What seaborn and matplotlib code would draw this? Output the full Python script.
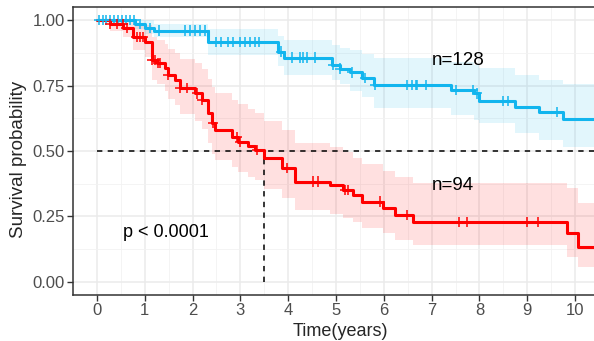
import numpy as np
import pandas as pd
import matplotlib
matplotlib.use("Agg")
import matplotlib.pyplot as plt
import seaborn as sns
from matplotlib.ticker import MultipleLocator

# ---------------- data ----------------
# group with n=128 (blue)
blue_time = [0, 0.80, 1.00, 1.20, 2.32, 3.78, 3.92, 4.92, 5.08, 5.30, 5.55, 5.80, 7.41, 7.89, 7.99, 8.74, 9.25, 9.75]
blue_surv = [1.0, 0.985, 0.970, 0.960, 0.917, 0.880, 0.857, 0.830, 0.815, 0.800, 0.780, 0.752, 0.733, 0.720, 0.691, 0.668, 0.648, 0.622]
blue_upper = [1.0, 1.0, 1.0, 0.985, 0.965, 0.940, 0.925, 0.905, 0.895, 0.885, 0.870, 0.855, 0.840, 0.830, 0.817, 0.790, 0.771, 0.755]
blue_lower = [1.0, 0.965, 0.945, 0.935, 0.865, 0.825, 0.790, 0.770, 0.755, 0.730, 0.705, 0.664, 0.637, 0.620, 0.607, 0.569, 0.542, 0.515]
blue_censor = [0.05, 0.12, 0.2, 0.28, 0.35, 0.45, 0.52, 0.6, 0.7, 0.78, 0.9, 1.1, 1.3,
               1.85, 1.95, 2.05, 2.15, 2.25, 2.5, 2.6, 2.75, 2.85, 3.0, 3.1, 3.2, 3.3, 3.4,
               3.85, 4.08, 4.25, 4.31, 4.39, 4.56, 4.94, 5.08, 5.33, 5.61, 5.82,
               6.49, 6.59, 6.67, 6.70, 6.88, 7.51, 7.87, 7.95, 8.49, 8.60, 9.62]
blue_end = 10.6

# group with n=94 (red)
red_time = [0, 0.27, 0.55, 0.75, 1.00, 1.15, 1.25, 1.42, 1.49, 1.63, 1.74, 2.05, 2.20, 2.32, 2.41,
            2.47, 2.82, 2.95, 3.15, 3.30, 3.50, 3.88, 4.14, 4.87, 5.15, 5.36, 5.54, 5.98, 6.23, 6.61, 9.83, 10.06]
red_surv = [1.0, 0.985, 0.970, 0.936, 0.917, 0.847, 0.836, 0.817, 0.790, 0.771, 0.740, 0.720, 0.695, 0.645, 0.607,
            0.580, 0.554, 0.534, 0.518, 0.505, 0.472, 0.435, 0.383, 0.370, 0.351, 0.332, 0.307, 0.281, 0.256, 0.230, 0.186, 0.135]
red_upper = [1.0, 1.0, 1.0, 0.990, 0.980, 0.935, 0.925, 0.910, 0.890, 0.875, 0.850, 0.835, 0.815, 0.775, 0.745,
             0.720, 0.695, 0.680, 0.660, 0.645, 0.615, 0.580, 0.530, 0.515, 0.495, 0.475, 0.450, 0.425, 0.400, 0.378, 0.360, 0.300]
red_lower = [1.0, 0.960, 0.935, 0.885, 0.860, 0.770, 0.755, 0.730, 0.700, 0.675, 0.640, 0.615, 0.585, 0.530, 0.490,
             0.465, 0.440, 0.420, 0.400, 0.390, 0.355, 0.320, 0.275, 0.260, 0.245, 0.230, 0.205, 0.185, 0.160, 0.141, 0.095, 0.057]
red_censor = [0.27, 0.42, 0.54, 0.62, 0.83, 0.90, 0.96, 1.15, 1.21, 1.28, 1.32, 1.49, 1.74, 1.88,
              2.09, 2.20, 2.43, 2.93, 2.99, 3.35, 3.97, 4.52, 4.62, 5.19, 5.25, 5.92, 6.48,
              7.57, 7.74, 9.00, 9.23]
red_end = 10.6

labels = ["n=128", "n=94"]
p_text = "p < 0.0001"
median_red = 3.5

BLUE = "#12B5EE"
RED = "#FF0000"

# ---------------- build frames ----------------
def frame(t, s, end, name):
    tt = list(t) + [end]
    ss = list(s) + [s[-1]]
    return pd.DataFrame({"time": tt, "surv": ss, "group": name})

df = pd.concat([frame(blue_time, blue_surv, blue_end, "blue"),
                frame(red_time, red_surv, red_end, "red")], ignore_index=True)

def surv_at(times, t, s):
    idx = np.searchsorted(np.asarray(t), np.asarray(times), side="right") - 1
    return np.asarray(s)[idx]

cens = pd.concat([
    pd.DataFrame({"time": blue_censor, "surv": surv_at(blue_censor, blue_time, blue_surv), "group": "blue"}),
    pd.DataFrame({"time": red_censor, "surv": surv_at(red_censor, red_time, red_surv), "group": "red"}),
], ignore_index=True)

# ---------------- plot ----------------
sns.set_theme(style="white")
plt.rcParams["font.family"] = ["Liberation Sans", "DejaVu Sans"]

W, H = 594, 341
fig = plt.figure(figsize=(W / 100, H / 100), dpi=100)
ax = fig.add_axes([73 / W, 46 / H, (599 - 73) / W, (295 - 7) / H])
ax.set_facecolor("white")

# grid
ax.xaxis.set_major_locator(MultipleLocator(1))
ax.xaxis.set_minor_locator(MultipleLocator(0.5))
ax.yaxis.set_major_locator(MultipleLocator(0.25))
ax.yaxis.set_minor_locator(MultipleLocator(0.125))
ax.grid(which="major", color="#EBEBEB", lw=1.1, zorder=0)
ax.grid(which="minor", color="#F2F2F2", lw=0.6, zorder=0)
ax.set_axisbelow(True)

# confidence bands
for t, lo, up, end, col in [(blue_time, blue_lower, blue_upper, blue_end, BLUE),
                            (red_time, red_lower, red_upper, red_end, RED)]:
    tt = list(t) + [end]
    ax.fill_between(tt, list(lo) + [lo[-1]], list(up) + [up[-1]], step="post",
                    color=col, alpha=0.12, lw=0, zorder=1)

# dashed median lines
ax.plot([0, 10.6], [0.5, 0.5], ls=(0, (3.5, 3.5)), color="black", lw=1.1, zorder=2)
ax.plot([median_red, median_red], [0, 0.5], ls=(0, (3.5, 3.5)), color="black", lw=1.1, zorder=2)

# survival curves
sns.lineplot(data=df, x="time", y="surv", hue="group", palette={"blue": BLUE, "red": RED},
             drawstyle="steps-post", estimator=None, sort=False, lw=2.2, legend=False, ax=ax, zorder=3)

# censor marks
sns.scatterplot(data=cens, x="time", y="surv", hue="group", palette={"blue": BLUE, "red": RED},
                marker="+", s=55, linewidth=1.1, legend=False, ax=ax, zorder=4)

# annotations
ax.text(7.0, 0.847, labels[0], fontsize=13.5, va="center", ha="left", color="black")
ax.text(7.0, 0.37, labels[1], fontsize=13.5, va="center", ha="left", color="black")
ax.text(1.44, 0.19, p_text, fontsize=13, va="center", ha="center", color="black")

ax.set_xlim(-0.5, 10.5)
ax.set_ylim(-0.05, 1.05)
ax.set_xticks(range(0, 11))
ax.set_yticks([0, 0.25, 0.5, 0.75, 1.0])
ax.set_yticklabels(["0.00", "0.25", "0.50", "0.75", "1.00"])
ax.tick_params(axis="both", which="major", length=4, width=1, color="#333333",
               labelsize=12, labelcolor="#4D4D4D", pad=2, bottom=True, left=True)
ax.tick_params(which="minor", length=0)
for sp in ax.spines.values():
    sp.set_color("#333333")
    sp.set_linewidth(1.1)
    sp.set_visible(True)

ax.set_xlabel("Time(years)", fontsize=13)
ax.set_ylabel("Survival probability", fontsize=13.5)
ax.xaxis.set_label_coords((340 - 73) / (599 - 73), -(323 - 295) / 288)
ax.yaxis.set_label_coords(-(73 - 27) / (599 - 73), 0.47)

fig.savefig("out.png", dpi=100)
